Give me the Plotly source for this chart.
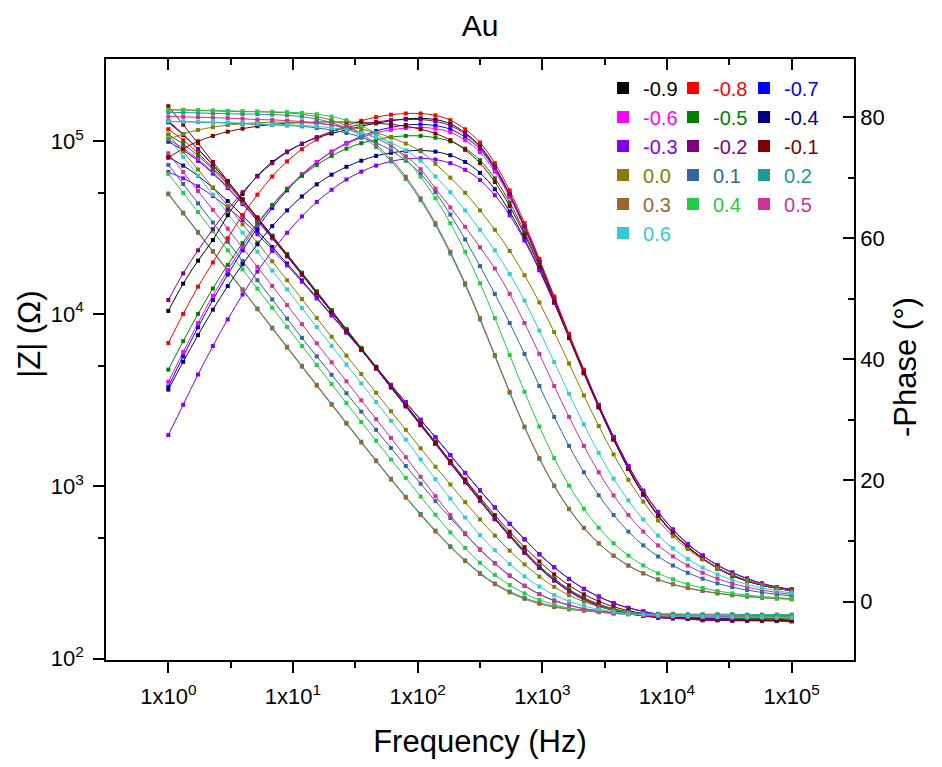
import plotly.graph_objects as go

# ---------------- data ----------------
freq_hz = [1.0, 1.316, 1.731, 2.276, 2.995, 3.939, 5.179, 6.813, 8.962, 11.79, 15.51, 20.40,
           26.83, 35.29, 46.42, 61.05, 80.31, 105.6, 138.9, 182.8, 240.4, 316.2, 415.9, 547.1,
           719.7, 946.7, 1245, 1638, 2154, 2834, 3728, 4903, 6449, 8483, 11160, 14680, 19310,
           25400, 33400, 43940, 57800, 76030, 100000]

potentials = ["-0.9", "-0.8", "-0.7", "-0.6", "-0.5", "-0.4", "-0.3", "-0.2", "-0.1",
              "0.0", "0.1", "0.2", "0.3", "0.4", "0.5", "0.6"]
colors = ["#000000", "#FF0000", "#0000FF", "#FF00FF", "#008000", "#000080", "#8000FF", "#800080",
          "#800000", "#808000", "#336699", "#1A9999", "#996633", "#22CC44", "#CC3399", "#33CCCC"]

# |Z| (Ohm)
zmod_m09 = [129100, 109100, 90090, 72980, 58300, 46110, 36240, 28370, 22120, 17230, 13410, 10410, 8088, 6280, 4879, 3789, 2944, 2288, 1782, 1378, 1068, 832, 651, 518, 417, 340, 287, 249, 223, 205, 192, 184, 179, 175, 173, 172, 171, 170, 169, 169, 169, 169, 167]
zmod_m08 = [117700, 101600, 85460, 70190, 56660, 45140, 35640, 27990, 21900, 17070, 13280, 10330, 8029, 6235, 4846, 3763, 2924, 2274, 1771, 1369, 1062, 826, 648, 515, 414, 338, 286, 248, 222, 204, 191, 183, 178, 174, 172, 171, 170, 169, 167, 167, 167, 167, 166]
zmod_m07 = [99650, 88930, 77210, 65110, 53660, 43400, 34640, 27400, 21530, 16840, 13140, 10230, 7962, 6190, 4812, 3737, 2905, 2259, 1760, 1361, 1055, 821, 644, 512, 412, 336, 284, 246, 220, 202, 190, 182, 177, 173, 171, 170, 167, 167, 166, 166, 166, 166, 165]
zmod_m06 = [102700, 91260, 78830, 66240, 54420, 43930, 34990, 27640, 21690, 16970, 13240, 10300, 8015, 6232, 4844, 3761, 2924, 2274, 1771, 1369, 1062, 826, 648, 515, 414, 338, 286, 248, 222, 204, 191, 183, 178, 174, 172, 171, 170, 169, 167, 167, 167, 167, 166]
zmod_m05 = [109500, 96440, 82590, 68880, 56250, 45190, 35900, 28290, 22190, 17330, 13510, 10510, 8174, 6353, 4937, 3833, 2980, 2317, 1804, 1395, 1082, 843, 660, 525, 423, 345, 292, 252, 226, 207, 195, 187, 181, 177, 175, 174, 173, 172, 171, 171, 171, 171, 170]
zmod_m04 = [81050, 72370, 63130, 53840, 45080, 37130, 30240, 24400, 19570, 15620, 12420, 9860, 7815, 6187, 4896, 3873, 3068, 2427, 1923, 1515, 1195, 946, 753, 605, 492, 403, 339, 290, 254, 229, 210, 197, 188, 181, 176, 173, 171, 170, 169, 167, 166, 166, 165]
zmod_m03 = [66370, 61070, 54950, 48260, 41450, 34910, 28910, 23610, 19100, 15360, 12280, 9774, 7765, 6158, 4880, 3864, 3062, 2425, 1922, 1514, 1195, 946, 753, 605, 492, 403, 339, 290, 254, 229, 210, 197, 188, 181, 176, 173, 171, 170, 169, 167, 166, 166, 165]
zmod_m02 = [131400, 110100, 90350, 72820, 57990, 45760, 35910, 28060, 21870, 17020, 13240, 10290, 7991, 6205, 4818, 3743, 2908, 2259, 1760, 1361, 1055, 821, 644, 512, 412, 336, 284, 246, 220, 202, 190, 182, 177, 173, 171, 170, 167, 167, 166, 166, 166, 166, 165]
zmod_m01 = [160000, 125000, 97500, 76000, 59000, 46000, 35800, 27900, 21700, 16900, 13150, 10250, 7980, 6220, 4850, 3780, 2950, 2300, 1790, 1400, 1095, 860, 680, 545, 443, 366, 308, 266, 236, 215, 200, 190, 183, 178, 175, 172, 170, 169, 168, 167, 167, 166, 166]
zmod_p00 = [109600, 87020, 68690, 53920, 42230, 33050, 25930, 20160, 15660, 12180, 9464, 7356, 5721, 4472, 3481, 2722, 2124, 1659, 1298, 1024, 808, 642, 517, 423, 352, 299, 261, 233, 214, 200, 192, 186, 181, 179, 177, 175, 175, 174, 173, 173, 173, 173, 172]
zmod_p01 = [73130, 56580, 43760, 33860, 26170, 20250, 15660, 12120, 9376, 7254, 5667, 4430, 3463, 2709, 2123, 1666, 1310, 1034, 819, 654, 527, 430, 358, 304, 265, 237, 218, 205, 195, 190, 184, 182, 180, 178, 178, 177, 176, 176, 176, 176, 175, 175, 175]
zmod_p02 = [49880, 38610, 29880, 23140, 17920, 13870, 10740, 8319, 6444, 4995, 3871, 3002, 2332, 1813, 1413, 1106, 868, 690, 553, 449, 372, 314, 273, 245, 225, 211, 201, 195, 191, 188, 186, 184, 183, 182, 182, 181, 181, 181, 181, 180, 180, 180, 180]
zmod_p03 = [49290, 38170, 29530, 22880, 17710, 13720, 10620, 8221, 6368, 4936, 3825, 2966, 2305, 1792, 1396, 1092, 858, 681, 546, 444, 368, 310, 270, 242, 222, 208, 199, 193, 189, 186, 183, 182, 181, 180, 180, 179, 179, 179, 178, 178, 178, 178, 178]
zmod_p04 = [64910, 50260, 38920, 30120, 23350, 18080, 14000, 10840, 8398, 6507, 5046, 3912, 3034, 2358, 1834, 1429, 1118, 871, 683, 540, 438, 360, 306, 267, 239, 219, 206, 196, 191, 186, 183, 181, 179, 179, 178, 177, 177, 177, 177, 176, 176, 176, 176]
zmod_p05 = [85330, 66350, 51580, 40100, 31180, 24160, 18720, 14510, 11240, 8705, 6749, 5234, 4059, 3150, 2449, 1906, 1474, 1134, 876, 680, 534, 428, 356, 302, 264, 236, 216, 204, 194, 188, 183, 181, 179, 177, 177, 176, 175, 175, 175, 175, 174, 174, 174]
zmod_p06 = [104600, 81350, 63250, 49160, 38220, 29580, 22920, 17820, 13860, 10780, 8382, 6522, 5079, 3953, 3081, 2395, 1864, 1429, 1098, 848, 658, 520, 425, 354, 300, 262, 234, 215, 202, 193, 187, 182, 180, 178, 176, 176, 175, 174, 174, 174, 174, 173, 173]

# -Phase (degrees)
phase_m09 = [48.0, 52.5, 56.3, 59.7, 63.8, 67.3, 70.3, 72.6, 74.3, 75.6, 76.6, 77.3, 77.9, 78.5, 79.0, 79.4, 79.7, 79.8, 79.6, 78.9, 77.4, 75.2, 71.8, 67.3, 62.0, 56.2, 50.0, 43.8, 37.9, 32.2, 26.8, 21.9, 17.7, 14.2, 11.3, 9.0, 7.1, 5.5, 4.3, 3.4, 2.7, 2.2, 1.8]
phase_m08 = [42.7, 47.5, 52.0, 56.0, 60.0, 63.8, 67.2, 70.2, 72.7, 74.7, 76.3, 77.6, 78.6, 79.4, 80.0, 80.4, 80.6, 80.6, 80.3, 79.5, 78.0, 75.8, 72.4, 67.9, 62.5, 56.6, 50.4, 44.2, 38.3, 32.5, 27.1, 22.1, 17.9, 14.3, 11.4, 9.1, 7.2, 5.6, 4.4, 3.5, 2.8, 2.2, 1.8]
phase_m07 = [35.5, 40.5, 45.3, 49.8, 54.0, 58.0, 61.7, 65.0, 67.9, 70.4, 72.5, 74.3, 75.7, 76.8, 77.7, 78.3, 78.7, 78.8, 78.6, 78.0, 76.7, 74.7, 71.4, 67.1, 61.8, 56.0, 49.9, 43.7, 37.8, 32.1, 26.8, 21.9, 17.7, 14.2, 11.3, 9.0, 7.1, 5.5, 4.3, 3.4, 2.7, 2.2, 1.8]
phase_m06 = [36.3, 41.2, 46.0, 50.5, 54.7, 58.6, 62.2, 65.4, 68.2, 70.6, 72.6, 74.3, 75.6, 76.6, 77.4, 77.9, 78.2, 78.3, 78.1, 77.5, 76.2, 74.2, 71.0, 66.8, 61.6, 55.9, 49.8, 43.7, 37.8, 32.1, 26.8, 21.9, 17.7, 14.2, 11.3, 9.0, 7.1, 5.5, 4.3, 3.4, 2.7, 2.2, 1.8]
phase_m05 = [38.3, 43.0, 47.5, 51.7, 55.6, 59.2, 62.5, 65.5, 68.1, 70.3, 72.1, 73.6, 74.8, 75.7, 76.3, 76.7, 76.9, 76.9, 76.6, 76.0, 74.8, 72.9, 69.9, 65.9, 61.0, 55.6, 49.6, 43.6, 37.7, 32.1, 26.8, 21.9, 17.7, 14.2, 11.3, 9.0, 7.1, 5.5, 4.3, 3.4, 2.7, 2.2, 1.8]
phase_m04 = [35.0, 39.6, 44.0, 48.2, 52.1, 55.7, 59.0, 62.0, 64.6, 66.9, 68.9, 70.5, 71.8, 72.8, 73.6, 74.1, 74.4, 74.5, 74.3, 73.7, 72.6, 70.8, 68.1, 64.4, 59.9, 54.8, 49.4, 43.7, 38.0, 32.4, 27.2, 22.4, 18.3, 14.8, 11.9, 9.5, 7.6, 6.0, 4.8, 3.8, 3.0, 2.4, 2.0]
phase_m03 = [27.5, 32.5, 37.5, 42.2, 46.6, 50.7, 54.5, 57.9, 60.9, 63.6, 66.0, 68.0, 69.7, 71.0, 72.0, 72.7, 73.1, 73.2, 73.0, 72.4, 71.3, 69.6, 67.1, 63.8, 59.6, 54.7, 49.3, 43.6, 37.9, 32.4, 27.2, 22.4, 18.3, 14.8, 11.9, 9.5, 7.6, 6.0, 4.8, 3.8, 3.0, 2.4, 2.0]
phase_m02 = [49.8, 54.2, 58.0, 61.5, 64.7, 67.6, 70.2, 72.4, 74.2, 75.6, 76.7, 77.6, 78.3, 78.8, 79.2, 79.5, 79.6, 79.6, 79.3, 78.6, 77.2, 75.0, 71.6, 67.2, 61.9, 56.1, 50.0, 43.8, 37.9, 32.2, 26.8, 21.9, 17.7, 14.2, 11.3, 9.0, 7.1, 5.5, 4.3, 3.4, 2.7, 2.2, 1.8]
phase_m01 = [73.3, 74.8, 76.0, 76.9, 77.6, 78.1, 78.5, 78.8, 79.0, 79.1, 79.2, 79.2, 79.2, 79.1, 79.0, 78.8, 78.5, 78.0, 77.3, 76.2, 74.6, 72.4, 69.3, 65.3, 60.6, 55.3, 49.5, 43.5, 37.7, 32.1, 26.8, 21.9, 17.7, 14.2, 11.3, 9.0, 7.1, 5.5, 4.3, 3.4, 2.7, 2.2, 1.8]
phase_p00 = [76.34, 77.22, 77.88, 78.34, 78.69, 78.92, 79.08, 79.18, 79.19, 79.11, 78.97, 78.73, 78.40, 78.02, 77.41, 76.62, 75.63, 74.36, 72.3, 70.0, 67.5, 64.6, 61.4, 57.9, 53.9, 49.4, 44.5, 39.3, 34.05, 29.0, 24.3, 20.1, 16.5, 13.4, 10.8, 8.68, 6.95, 5.55, 4.42, 3.52, 2.8, 2.22, 1.76]
phase_p01 = [79.27, 79.23, 79.18, 79.11, 79.02, 78.92, 78.78, 78.75, 78.62, 78.48, 78.21, 77.88, 77.38, 76.70, 75.76, 74.50, 72.81, 70.67, 67.6, 63.9, 59.8, 55.4, 50.8, 46.0, 40.9, 35.6, 30.5, 25.7, 21.35, 17.55, 14.3, 11.55, 9.28, 7.45, 5.95, 4.75, 3.78, 3.0, 2.38, 1.89, 1.5, 1.19, 0.94]
phase_p02 = [80.80, 80.75, 80.70, 80.62, 80.56, 80.52, 80.48, 80.42, 80.30, 80.08, 79.69, 79.09, 78.19, 76.90, 75.08, 72.76, 69.81, 66.28, 62.18, 57.47, 52.30, 46.57, 40.52, 34.48, 28.76, 23.57, 19.06, 15.25, 12.13, 9.58, 7.55, 5.93, 4.65, 3.64, 2.85, 2.23, 1.74, 1.36, 1.06, 0.83, 0.65, 0.51, 0.40]
phase_p03 = [81.21, 81.16, 81.10, 81.03, 80.96, 80.92, 80.88, 80.82, 80.70, 80.48, 80.09, 79.49, 78.58, 77.29, 75.46, 73.12, 70.16, 66.61, 62.49, 57.76, 52.56, 46.80, 40.72, 34.65, 28.90, 23.69, 19.16, 15.33, 12.19, 9.63, 7.59, 5.96, 4.67, 3.66, 2.86, 2.24, 1.75, 1.37, 1.07, 0.83, 0.65, 0.51, 0.40]
phase_p04 = [81.26, 81.21, 81.16, 81.10, 81.03, 80.96, 80.92, 80.88, 80.82, 80.70, 80.48, 80.09, 79.49, 78.58, 77.29, 75.46, 73.12, 70.16, 66.61, 62.49, 57.76, 52.56, 46.80, 40.72, 34.65, 28.90, 23.69, 19.16, 15.33, 12.19, 9.63, 7.59, 5.96, 4.67, 3.66, 2.86, 2.24, 1.75, 1.37, 1.07, 0.83, 0.65, 0.51]
phase_p05 = [80.08, 80.04, 79.99, 79.92, 79.83, 79.73, 79.59, 79.56, 79.42, 79.28, 79.00, 78.67, 78.16, 77.47, 76.53, 75.26, 73.55, 71.39, 68.2, 65.1, 61.9, 58.5, 55.0, 50.8, 46.0, 40.9, 35.6, 30.5, 25.7, 21.35, 17.55, 14.3, 11.55, 9.28, 7.45, 5.95, 4.75, 3.78, 3.0, 2.38, 1.89, 1.5, 1.19]
phase_p06 = [79.31, 79.27, 79.23, 79.18, 79.11, 79.02, 78.92, 78.78, 78.75, 78.62, 78.48, 78.21, 77.88, 77.38, 76.70, 75.76, 74.50, 72.81, 70.2, 67.6, 64.6, 61.4, 58.0, 54.1, 49.7, 44.75, 39.55, 34.3, 29.25, 24.55, 20.3, 16.7, 13.55, 10.9, 8.78, 7.03, 5.6, 4.48, 3.57, 2.83, 2.25, 1.78, 1.42]

zmod_series = [zmod_m09, zmod_m08, zmod_m07, zmod_m06, zmod_m05, zmod_m04, zmod_m03, zmod_m02,
               zmod_m01, zmod_p00, zmod_p01, zmod_p02, zmod_p03, zmod_p04, zmod_p05, zmod_p06]
phase_series = [phase_m09, phase_m08, phase_m07, phase_m06, phase_m05, phase_m04, phase_m03, phase_m02,
                phase_m01, phase_p00, phase_p01, phase_p02, phase_p03, phase_p04, phase_p05, phase_p06]

freq_tickvals = [1, 10, 100, 1000, 10000, 100000]
freq_ticktext = ["1x10<sup>0</sup>", "1x10<sup>1</sup>", "1x10<sup>2</sup>",
                 "1x10<sup>3</sup>", "1x10<sup>4</sup>", "1x10<sup>5</sup>"]
freq_minor = [3.1623, 31.623, 316.23, 3162.3, 31623]
z_tickvals = [100, 1000, 10000, 100000]
z_ticktext = ["10<sup>2</sup>", "10<sup>3</sup>", "10<sup>4</sup>", "10<sup>5</sup>"]
z_minor = [500, 5000, 50000]
phase_tickvals = [0, 20, 40, 60, 80]
phase_minor = [10, 30, 50, 70]

# ---------------- figure ----------------
FONT = "Liberation Sans, Arial, sans-serif"
fig = go.Figure()

# fitted lines
for color, zm, ph in zip(colors, zmod_series, phase_series):
    fig.add_trace(go.Scatter(x=freq_hz, y=zm, mode="lines",
                             line=dict(color=color, width=1, shape="spline"),
                             showlegend=False, hoverinfo="skip"))
    fig.add_trace(go.Scatter(x=freq_hz, y=ph, yaxis="y2", mode="lines",
                             line=dict(color=color, width=1, shape="spline"),
                             showlegend=False, hoverinfo="skip"))

# measured points
legend_ids = ["legend", "legend2", "legend3"]
for i, (label, color, zm, ph) in enumerate(zip(potentials, colors, zmod_series, phase_series)):
    fig.add_trace(go.Scatter(x=freq_hz, y=zm, mode="markers",
                             marker=dict(symbol="square", size=4, color=color),
                             name=f"<span style='color:{color}'>{label}</span>",
                             legend=legend_ids[i % 3], showlegend=True))
    fig.add_trace(go.Scatter(x=freq_hz, y=ph, yaxis="y2", mode="markers",
                             marker=dict(symbol="square", size=4, color=color),
                             showlegend=False))

# invisible trace so the mirrored top frequency axis is drawn
fig.add_trace(go.Scatter(x=freq_hz, y=zmod_m09, xaxis="x2", yaxis="y", mode="markers",
                         marker=dict(opacity=0), showlegend=False, hoverinfo="skip"))

axis_common = dict(showline=True, linewidth=1.6, linecolor="black", showgrid=False,
                   zeroline=False, tickcolor="black", tickwidth=1.6, ticklen=11)

legend_common = dict(yanchor="top", xanchor="left", y=0.984, bgcolor="rgba(0,0,0,0)",
                     font=dict(size=20, family=FONT), itemsizing="constant",
                     tracegroupgap=0, orientation="v")

# the page body adds an 8 px offset, so the figure is 8 px smaller with shifted margins
fig.update_layout(
    width=934, height=759,
    margin=dict(l=98, r=88, t=51, b=107, autoexpand=False),
    paper_bgcolor="white", plot_bgcolor="white",
    font=dict(family=FONT, color="black", size=22),
    title=dict(text="Au", x=0.5, xref="paper", xanchor="center",
               y=1 - 17 / 759, yref="container", yanchor="middle",
               font=dict(size=30, family=FONT)),
    xaxis=dict(type="log", range=[-0.5, 5.5], tickvals=freq_tickvals, ticktext=freq_ticktext,
               ticks="outside", tickfont=dict(size=22), ticklabelstandoff=5,
               minor=dict(tickvals=freq_minor, ticks="outside", ticklen=6, tickwidth=1.6,
                          tickcolor="black", showgrid=False),
               title=dict(text="Frequency (Hz)", font=dict(size=31), standoff=22),
               **axis_common),
    xaxis2=dict(type="log", range=[-0.5, 5.5], overlaying="x", side="top", anchor="y",
                tickvals=freq_tickvals, showticklabels=False, ticks="inside",
                minor=dict(tickvals=freq_minor, ticks="inside", ticklen=6, tickwidth=1.6,
                           tickcolor="black", showgrid=False),
                **axis_common),
    yaxis=dict(type="log", range=[1.992, 5.478], tickvals=z_tickvals, ticktext=z_ticktext,
               ticks="outside", tickfont=dict(size=22), ticklabelstandoff=5,
               minor=dict(tickvals=z_minor, ticks="outside", ticklen=6, tickwidth=1.6,
                          tickcolor="black", showgrid=False),
               **axis_common),
    yaxis2=dict(range=[-9.65, 89.6], overlaying="y", side="right", anchor="x",
                tickvals=phase_tickvals, ticks="inside", tickfont=dict(size=22),
                minor=dict(tickvals=phase_minor, ticks="inside", ticklen=6, tickwidth=1.6,
                           tickcolor="black", showgrid=False),
                **axis_common),
    legend=dict(x=0.6645, **legend_common),
    legend2=dict(x=0.758, **legend_common),
    legend3=dict(x=0.853, **legend_common),
    annotations=[
        dict(text="|Z| (Ω)", xref="paper", yref="paper", x=-0.1016, y=0.541,
             xanchor="center", yanchor="middle", textangle=-90, showarrow=False,
             font=dict(size=31, family=FONT)),
        dict(text="-Phase (°)", xref="paper", yref="paper", x=1.0682, y=0.4875,
             xanchor="center", yanchor="middle", textangle=-90, showarrow=False,
             font=dict(size=31, family=FONT)),
    ],
)

fig.write_html("out.html")
